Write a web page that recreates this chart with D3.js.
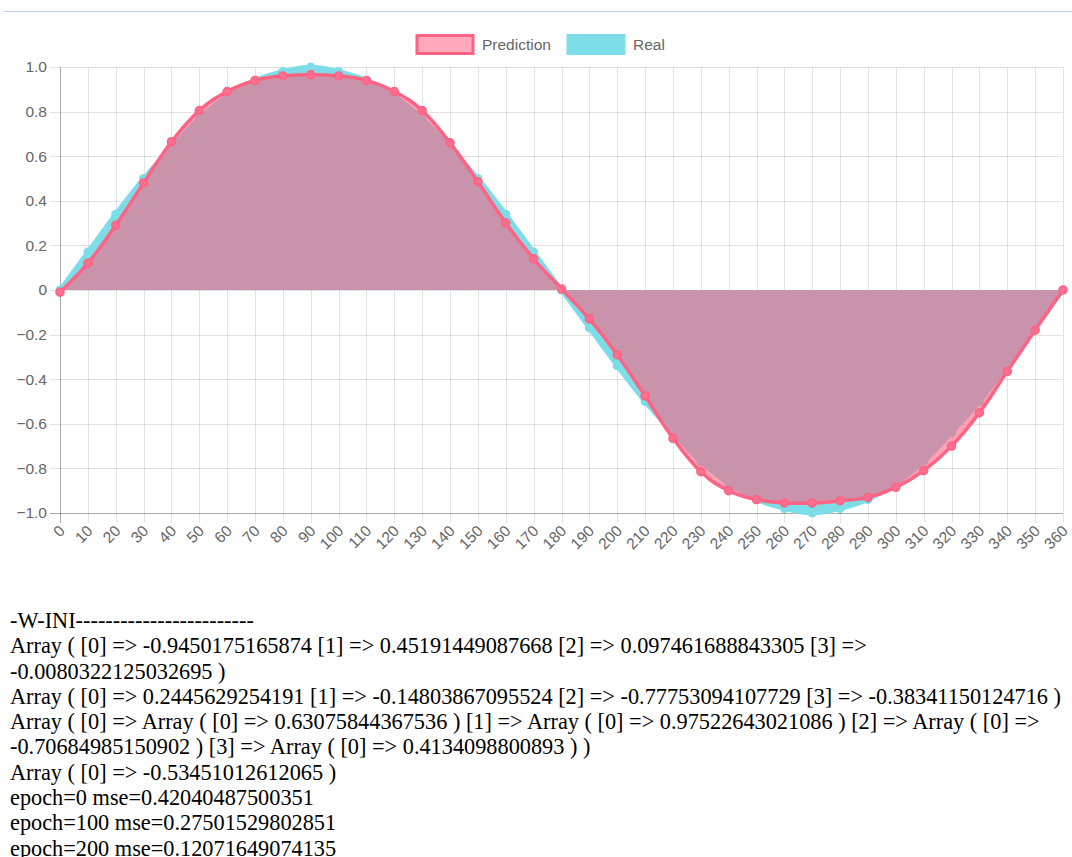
<!DOCTYPE html>
<html>
<head>
<meta charset="utf-8">
<script src="https://cdn.jsdelivr.net/npm/d3@7"></script>
<style>
  html, body { margin: 0; padding: 0; background: #fff; }
  body { width: 1072px; height: 857px; overflow: hidden; position: relative; }
  #chart { position: absolute; left: 0; top: 0; }
  #log {
    position: absolute; left: 10px; top: 608px;
    font-family: "Liberation Serif", "Times New Roman", serif;
    font-size: 22.3px; line-height: 25.3px; color: #000;
  }
  #log div { white-space: nowrap; }
</style>
</head>
<body>
<svg id="chart" width="1072" height="600"></svg>
<div id="log"></div>
<script>
// x categories (degrees)
const angles = [0, 10, 20, 30, 40, 50, 60, 70, 80, 90, 100, 110, 120, 130, 140, 150, 160, 170, 180,
  190, 200, 210, 220, 230, 240, 250, 260, 270, 280, 290, 300, 310, 320, 330, 340, 350, 360];

// network output
const prediction = [-0.01, 0.12, 0.29, 0.48, 0.665, 0.805, 0.89, 0.94, 0.96, 0.965, 0.96, 0.94, 0.89,
  0.805, 0.66, 0.485, 0.30, 0.14, 0.005, -0.13, -0.29, -0.475, -0.665, -0.815, -0.90, -0.94, -0.955,
  -0.955, -0.945, -0.93, -0.885, -0.81, -0.70, -0.55, -0.365, -0.18, 0.0];

// target values
const real = [0, 0.17, 0.34, 0.5, 0.64, 0.77, 0.87, 0.94, 0.98, 1.0, 0.98, 0.94, 0.87, 0.77, 0.64,
  0.5, 0.34, 0.17, 0, -0.17, -0.34, -0.5, -0.64, -0.77, -0.87, -0.94, -0.98, -1.0, -0.98, -0.94,
  -0.87, -0.77, -0.64, -0.5, -0.34, -0.17, 0];

const yTicks = [1.0, 0.8, 0.6, 0.4, 0.2, 0, -0.2, -0.4, -0.6, -0.8, -1.0];

const seriesNames = ["Prediction", "Real"];

// printed training log
const logLines = [
  "-W-INI------------------------",
  "Array ( [0] => -0.9450175165874 [1] => 0.45191449087668 [2] => 0.097461688843305 [3] =>",
  "-0.0080322125032695 )",
  "Array ( [0] => 0.2445629254191 [1] => -0.14803867095524 [2] => -0.77753094107729 [3] => -0.38341150124716 )",
  "Array ( [0] => Array ( [0] => 0.63075844367536 ) [1] => Array ( [0] => 0.97522643021086 ) [2] => Array ( [0] =>",
  "-0.70684985150902 ) [3] => Array ( [0] => 0.4134098800893 ) )",
  "Array ( [0] => -0.53451012612065 )",
  "epoch=0 mse=0.42040487500351",
  "epoch=100 mse=0.27501529802851",
  "epoch=200 mse=0.12071649074135"
];

const svg = d3.select("#chart");
const plotLeft = 60, plotRight = 1063, plotTop = 67, plotBottom = 513;
const font = "'Liberation Sans', Arial, Helvetica, sans-serif";

const PRED = "rgb(255,99,132)";
const REAL = "rgb(124,221,233)";

// rule above the chart
svg.append("line").attr("x1", 4).attr("x2", 1072).attr("y1", 11.5).attr("y2", 11.5)
  .attr("stroke", "#bcd2ee").attr("stroke-width", 1);

const x = d3.scalePoint().domain(angles).range([plotLeft, plotRight]);
const y = d3.scaleLinear().domain([-1, 1]).range([plotBottom, plotTop]);

// grid lines
const grid = svg.append("g");
grid.selectAll("line.h").data(yTicks).join("line")
  .attr("x1", plotLeft - 10).attr("x2", plotRight)
  .attr("y1", d => Math.round(y(d)) + 0.5).attr("y2", d => Math.round(y(d)) + 0.5)
  .attr("stroke", "rgba(0,0,0,0.11)");
grid.selectAll("line.v").data(angles).join("line")
  .attr("x1", d => Math.round(x(d)) + 0.5).attr("x2", d => Math.round(x(d)) + 0.5)
  .attr("y1", plotTop).attr("y2", plotBottom + 10)
  .attr("stroke", "rgba(0,0,0,0.11)");
// axis lines
svg.append("line").attr("x1", plotLeft + 0.5).attr("x2", plotLeft + 0.5).attr("y1", plotTop).attr("y2", plotBottom + 10)
  .attr("stroke", "rgba(0,0,0,0.25)");
svg.append("line").attr("x1", plotLeft - 10).attr("x2", plotRight)
  .attr("y1", Math.round(y(-1)) + 0.5).attr("y2", Math.round(y(-1)) + 0.5)
  .attr("stroke", "rgba(0,0,0,0.25)");

// y tick labels
svg.append("g").selectAll("text").data(yTicks).join("text")
  .attr("x", 47).attr("y", d => y(d)).attr("dy", "0.35em")
  .attr("text-anchor", "end")
  .attr("font-family", font).attr("font-size", 15.5).attr("fill", "#666")
  .text(d => d === 0 ? "0" : d3.format(".1f")(d));

// x tick labels, rotated
svg.append("g").selectAll("text").data(angles).join("text")
  .attr("transform", d => `translate(${x(d) + 2},${plotBottom + 15}) rotate(-45)`)
  .attr("text-anchor", "end").attr("dy", "0.35em")
  .attr("font-family", font).attr("font-size", 15.5).attr("fill", "#666")
  .text(d => d);

const curve = d3.curveCardinal.tension(-0.2);
const area = vals => d3.area().x((d, i) => x(angles[i])).y0(y(0)).y1(d => y(d)).curve(curve)(vals);
const line = vals => d3.line().x((d, i) => x(angles[i])).y(d => y(d)).curve(curve)(vals);

// Real dataset (underneath)
svg.append("path").attr("d", area(real)).attr("fill", REAL);
svg.append("path").attr("d", line(real)).attr("fill", "none").attr("stroke", REAL).attr("stroke-width", 4.5);
svg.append("g").selectAll("circle").data(real).join("circle")
  .attr("cx", (d, i) => x(angles[i])).attr("cy", d => y(d)).attr("r", 4.5).attr("fill", REAL);

// Prediction dataset (on top)
svg.append("path").attr("d", area(prediction)).attr("fill", "rgba(255,99,132,0.6)");
svg.append("path").attr("d", line(prediction)).attr("fill", "none").attr("stroke", PRED).attr("stroke-width", 3.5);
svg.append("g").selectAll("circle").data(prediction).join("circle")
  .attr("cx", (d, i) => x(angles[i])).attr("cy", d => y(d)).attr("r", 4)
  .attr("fill", "rgb(255,110,142)").attr("stroke", PRED).attr("stroke-width", 1.5);

// legend
const legend = svg.append("g");
const legendItems = [
  { name: seriesNames[0], x: 417, fill: "rgba(255,99,132,0.55)", stroke: PRED, tx: 482 },
  { name: seriesNames[1], x: 568, fill: REAL, stroke: REAL, tx: 633 }
];
legendItems.forEach(it => {
  legend.append("rect").attr("x", it.x).attr("y", 35.5).attr("width", 56).attr("height", 18)
    .attr("fill", it.fill).attr("stroke", it.stroke).attr("stroke-width", 3);
  legend.append("text").attr("x", it.tx).attr("y", 44.5).attr("dy", "0.35em")
    .attr("font-family", font).attr("font-size", 15.5).attr("fill", "#666").text(it.name);
});

// log text
d3.select("#log").selectAll("div").data(logLines).join("div").text(d => d);
</script>
</body>
</html>
